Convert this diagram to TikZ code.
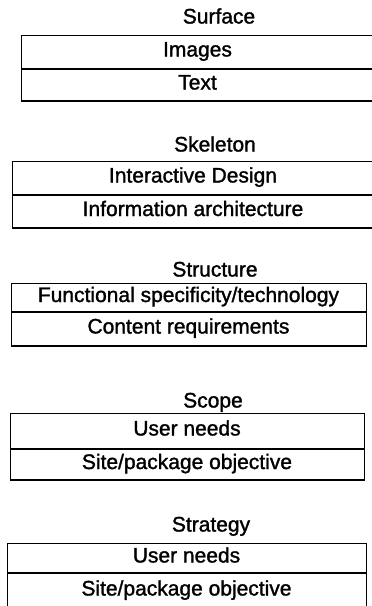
\documentclass[tikz,border=0pt]{standalone}
\usepackage{fontspec}
\setmainfont{Liberation Sans}
\newfontfamily\scanfont{Liberation Sans}[FakeBold=1.4]
\begin{document}
\begin{tikzpicture}[x=1pt,y=-1pt,
  every node/.style={inner sep=0pt,outer sep=0pt,
    font=\scanfont\fontsize{21}{25}\selectfont,
    text height=0.95em,text depth=0.05em},
  layertitle/.style={anchor=center},
  rowbox/.style={draw,line width=0.8pt,anchor=north west},
  heavy/.style={line width=1.8pt},
]
\useasboundingbox (0,0) rectangle (372,606);

% Surface
\node[layertitle] (surf) at (219,19) {Surface};
\node[rowbox,minimum width=353pt,minimum height=34pt] (surfA) at (21,35) {Images};
\node[rowbox,minimum width=353pt,minimum height=32pt] (surfB) at (surfA.south west) {Text};
\draw[heavy] (surfA.south west) -- (surfA.south east);
\draw[heavy] (surfB.south west) -- (surfB.south east);

% Skeleton
\node[layertitle] (skel) at (215,147) {Skeleton};
\node[rowbox,minimum width=362pt,minimum height=34pt] (skelA) at (12,161) {Interactive Design};
\node[rowbox,minimum width=362pt,minimum height=33pt] (skelB) at (skelA.south west) {Information architecture};
\draw[heavy] (skelA.south west) -- (skelA.south east);
\draw[heavy] (skelB.south west) -- (skelB.south east);

% Structure
\node[layertitle] (struc) at (215,272) {Structure};
\node[rowbox,minimum width=355pt,minimum height=29pt] (strucA) at (11,283) {Functional specificity/technology};
\node[rowbox,minimum width=355pt,minimum height=34pt] (strucB) at (strucA.south west) {Content requirements};
\draw[heavy] (strucA.south west) -- (strucA.south east);
\draw[heavy] (strucB.south west) -- (strucB.south east);

% Scope
\node[layertitle] (scope) at (213,403) {Scope};
\node[rowbox,minimum width=354pt,minimum height=36pt] (scopeA) at (10,413) {User needs};
\node[rowbox,minimum width=354pt,minimum height=31pt] (scopeB) at (scopeA.south west) {Site/package objective};
\draw[heavy] (scopeA.south west) -- (scopeA.south east);
\draw[heavy] (scopeB.south west) -- (scopeB.south east);

% Strategy
\node[layertitle] (strat) at (211,527) {Strategy};
\node[rowbox,minimum width=359pt,minimum height=30pt] (stratA) at (7,543) {User needs};
\node[rowbox,minimum width=359pt,minimum height=36pt] (stratB) at (stratA.south west) {Site/package objective};
\draw[heavy] (stratA.south west) -- (stratA.south east);
\end{tikzpicture}
\end{document}
